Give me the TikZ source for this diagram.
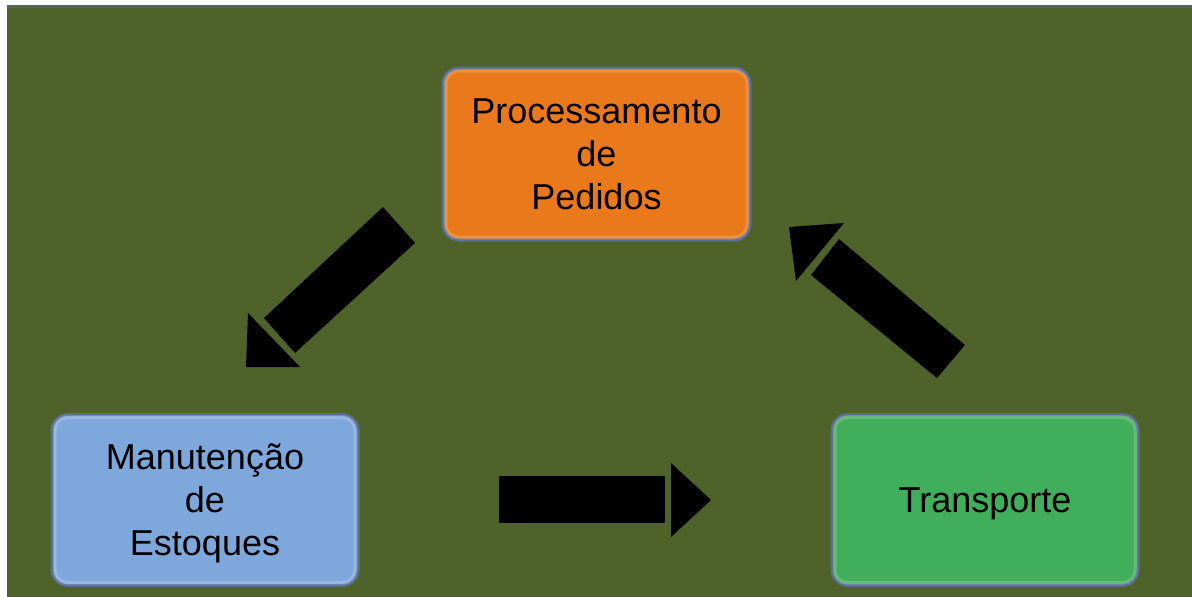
\documentclass[tikz,border=0pt]{standalone}
\usepackage{fontspec}
\setmainfont{Liberation Sans}
\definecolor{bgolive}{HTML}{4F6229}
\definecolor{boxedge}{HTML}{5A7090}
\definecolor{orangefill}{HTML}{E9791B}
\definecolor{bluefill}{HTML}{7EA8DC}
\definecolor{greenfill}{HTML}{41AE5B}
\tikzset{
  stagebox/.style={draw=boxedge, line width=3pt, rounded corners=16pt,
    minimum width=306pt, minimum height=171pt, inner sep=0pt, text depth=0pt,
    align=center, font=\fontsize{36}{43}\selectfont, text=black},
  blockarrow/.style={fill=black, draw=none},
  rim/.style={draw=white, draw opacity=0.18, line width=4pt, rounded corners=13pt, fill=none}
}
\begin{document}
\begin{tikzpicture}[x=1pt,y=-1pt]
  \useasboundingbox (0,0) rectangle (1192,597);
  \fill[white] (0,0) rectangle (1192,597);
  \fill[bgolive] (7,5) rectangle (1192,597);
  \fill[boxedge, opacity=0.45] (7,5) rectangle (1192,8);

  % boxes
  \node[stagebox, fill=orangefill, minimum width=307pt, minimum height=172pt] (proc) at (596.5,154)
    {Processamento\\de\\Pedidos};
  \node[stagebox, fill=bluefill] (manut) at (205,500)
    {Manutenção\\de\\Estoques};
  \node[stagebox, fill=greenfill] (transp) at (985,500)
    {Transporte};

  % inner highlight rims
  \foreach \b in {proc, manut, transp} {
    \draw[rim] ([shift={(4,4)}]\b.north west) rectangle ([shift={(-4,-4)}]\b.south east);
  }

  % block arrow: processamento -> manutencao (down-left)
  \fill[blockarrow] (383,207) -- (415,243) -- (295,353) -- (264,318) -- cycle;
  \fill[blockarrow] (248,313) -- (300,367) -- (246,367) -- cycle;

  % block arrow: manutencao -> transporte (right)
  \fill[blockarrow] (499,476) rectangle (665,523);
  \fill[blockarrow] (671,463) -- (711,500) -- (671,537) -- cycle;

  % block arrow: transporte -> processamento (up-left)
  \fill[blockarrow] (839,239) -- (965,345) -- (937,378) -- (811,275) -- cycle;
  \fill[blockarrow] (844,223) -- (796,281) -- (789,227) -- cycle;
\end{tikzpicture}
\end{document}
